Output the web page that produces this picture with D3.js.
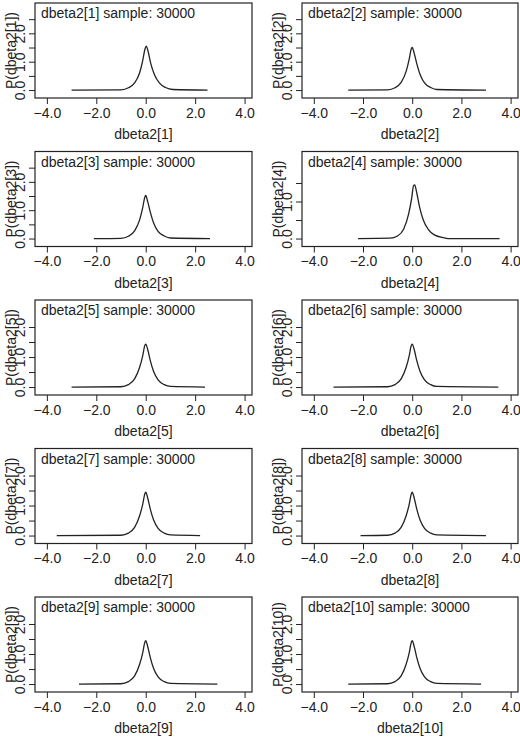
<!DOCTYPE html>
<html><head><meta charset="utf-8">
<script src="https://cdn.jsdelivr.net/npm/d3@7"></script>
<style>body{margin:0;background:#fff}text{font-family:"Liberation Sans",Arial,sans-serif;fill:#222}</style>
</head><body>
<script>
const names = ["dbeta2[1]","dbeta2[2]","dbeta2[3]","dbeta2[4]","dbeta2[5]","dbeta2[6]","dbeta2[7]","dbeta2[8]","dbeta2[9]","dbeta2[10]"];
const samples = [30000,30000,30000,30000,30000,30000,30000,30000,30000,30000];
const yMax = [3.07,3.07,3.07,2.35,2.9,2.9,2.9,2.9,2.9,2.9];
const yTickLabels = [0.0,1.0,2.0];
const xTicks = [-4,-2,0,2,4];
// density curves: [x, p]
const curves = [
 [[-3.0,0],[-1.0,0.01],[-0.7,0.08],[-0.45,0.25],[-0.25,0.6],[-0.12,1.05],[-0.03,1.45],[0.02,1.55],[0.1,1.35],[0.2,0.95],[0.35,0.55],[0.55,0.25],[0.8,0.09],[1.1,0.02],[2.5,0]],
 [[-2.6,0],[-1.0,0.01],[-0.7,0.08],[-0.45,0.27],[-0.25,0.65],[-0.12,1.1],[-0.04,1.45],[0.0,1.5],[0.08,1.3],[0.18,0.95],[0.32,0.55],[0.5,0.25],[0.75,0.09],[1.0,0.02],[3.0,0]],
 [[-2.1,0],[-1.0,0.01],[-0.7,0.08],[-0.45,0.27],[-0.25,0.65],[-0.12,1.1],[-0.04,1.45],[0.0,1.52],[0.08,1.3],[0.18,0.95],[0.32,0.55],[0.5,0.25],[0.75,0.09],[1.0,0.02],[2.6,0]],
 [[-2.2,0],[-0.9,0.01],[-0.6,0.07],[-0.35,0.25],[-0.15,0.65],[-0.02,1.1],[0.05,1.42],[0.1,1.45],[0.18,1.25],[0.3,0.85],[0.45,0.5],[0.65,0.25],[0.9,0.1],[1.3,0.02],[1.45,0],[3.55,0]],
 [[-3.0,0],[-1.0,0.01],[-0.7,0.08],[-0.45,0.27],[-0.25,0.65],[-0.12,1.05],[-0.04,1.38],[0.0,1.43],[0.08,1.25],[0.18,0.9],[0.32,0.52],[0.5,0.24],[0.75,0.08],[1.0,0.02],[2.4,0]],
 [[-3.2,0],[-1.0,0.01],[-0.7,0.08],[-0.45,0.27],[-0.25,0.65],[-0.12,1.05],[-0.04,1.38],[0.0,1.43],[0.08,1.25],[0.18,0.9],[0.32,0.52],[0.5,0.24],[0.75,0.08],[1.0,0.02],[3.5,0]],
 [[-3.6,0],[-1.0,0.01],[-0.7,0.08],[-0.45,0.27],[-0.25,0.65],[-0.12,1.05],[-0.04,1.38],[0.0,1.45],[0.08,1.25],[0.18,0.9],[0.32,0.52],[0.5,0.24],[0.75,0.08],[1.0,0.02],[2.2,0]],
 [[-2.1,0],[-1.0,0.01],[-0.7,0.08],[-0.45,0.27],[-0.25,0.65],[-0.12,1.05],[-0.04,1.38],[0.0,1.45],[0.08,1.25],[0.18,0.9],[0.32,0.52],[0.5,0.24],[0.75,0.08],[1.0,0.02],[3.0,0]],
 [[-2.7,0],[-1.0,0.01],[-0.7,0.08],[-0.45,0.27],[-0.25,0.65],[-0.12,1.05],[-0.04,1.38],[0.0,1.45],[0.08,1.25],[0.18,0.9],[0.32,0.52],[0.5,0.24],[0.75,0.08],[1.0,0.02],[2.9,0]],
 [[-2.6,0],[-1.0,0.01],[-0.7,0.08],[-0.45,0.27],[-0.25,0.65],[-0.12,1.05],[-0.04,1.38],[0.0,1.45],[0.08,1.25],[0.18,0.9],[0.32,0.52],[0.5,0.24],[0.75,0.08],[1.0,0.02],[2.8,0]]
];

const svg = d3.select("body").append("svg").attr("width",520).attr("height",746);
const colX = [35,302], boxW = [217,216], boxH = 95;

names.forEach(function(name,i){
  const col = i%2, row = Math.floor(i/2);
  const left = colX[col], top = 3 + row*148.5;
  const g = svg.append("g").attr("transform",`translate(${left},${top})`);
  const x = d3.scaleLinear().domain([-4.48,4.3]).range([0,boxW[col]]);
  const y = d3.scaleLinear().domain([-0.28*yMax[i]/3.07,yMax[i]]).range([boxH,0]);

  g.append("rect").attr("width",boxW[col]).attr("height",boxH)
    .attr("fill","none").attr("stroke","#222").attr("stroke-width",1.2);

  const xa = g.append("g").attr("transform",`translate(0,${boxH})`)
    .call(d3.axisBottom(x).tickValues(xTicks).tickSize(6).tickPadding(4).tickFormat(d3.format(".1f")));
  const yTicks = d3.range(0,yMax[i]-0.5,0.5);
  const ya = g.append("g")
    .call(d3.axisLeft(y).tickValues(yTicks).tickSize(6).tickPadding(3)
      .tickFormat(d => yTickLabels.includes(d) ? d3.format(".1f")(d) : ""));
  [xa,ya].forEach(a=>{a.select(".domain").remove();a.selectAll("line").attr("stroke","#222");
    a.selectAll("text").attr("font-size",14).attr("fill","#222");});
  xa.selectAll("text").text(d=>d3.format(".1f")(d).replace("-","\u2212"));
  ya.selectAll(".tick text").attr("transform","rotate(-90)").attr("text-anchor","middle")
    .attr("dy","0").attr("x",0).attr("y",-10);

  g.append("path").datum(curves[i])
    .attr("d",d3.line().x(d=>x(d[0])).y(d=>y(d[1])).curve(d3.curveMonotoneX))
    .attr("fill","none").attr("stroke","#222").attr("stroke-width",1.3);

  g.append("text").attr("x",6).attr("y",15).attr("font-size",14)
    .text(`${name} sample: ${samples[i]}`);
  g.append("text").attr("x",boxW[col]/2).attr("y",boxH+41).attr("text-anchor","middle")
    .attr("font-size",14).text(name);
  g.append("text").attr("transform",`translate(-19,${boxH/2}) rotate(-90)`)
    .attr("text-anchor","middle").attr("font-size",14).text(`P(${name})`);
});
</script>
</body></html>
